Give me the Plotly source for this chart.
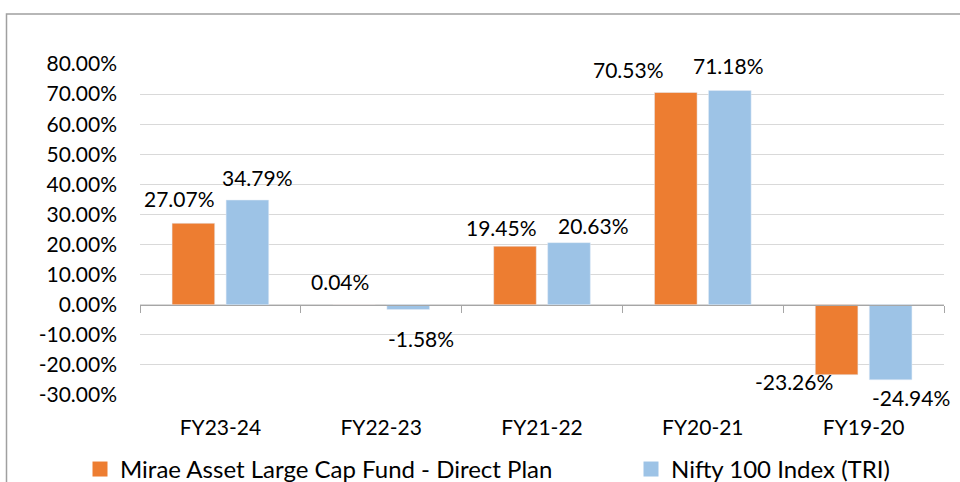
import plotly.graph_objects as go

categories = ["FY23-24", "FY22-23", "FY21-22", "FY20-21", "FY19-20"]
fund_name = "Mirae Asset Large Cap Fund - Direct Plan"
index_name = "Nifty 100 Index (TRI)"
fund_values = [27.07, 0.04, 19.45, 70.53, -23.26]
index_values = [34.79, -1.58, 20.63, 71.18, -24.94]
y_ticks = [-30, -20, -10, 0, 10, 20, 30, 40, 50, 60, 70, 80]

# label placement offsets (pixels, relative to category centre / bar end)
fund_label_dx = [-41, -41, -41, -74, -70]
fund_label_dy = [25, 23, 19, 23, -7]
index_label_dx = [37, 40, 51, 26, 47]
index_label_dy = [23, -29, 17, 25, -18]

ORANGE = "#ED7D31"
BLUE = "#9DC3E6"
FONT = "Lato"
W, H = 960, 482
L, R, T, B = 140, 16, 63.5, 87
ymin, ymax = y_ticks[0], y_ticks[-1]

fig = go.Figure()
fig.add_trace(go.Bar(x=categories, y=fund_values, name=fund_name,
                     marker_color=ORANGE, showlegend=False))
fig.add_trace(go.Bar(x=categories, y=index_values, name=index_name,
                     marker_color=BLUE, showlegend=False))
# legend entries with square markers
fig.add_trace(go.Scatter(x=[None], y=[None], mode="markers", name=fund_name,
                         marker=dict(symbol="square", size=15, color=ORANGE),
                         legend="legend"))
fig.add_trace(go.Scatter(x=[None], y=[None], mode="markers", name=index_name,
                         marker=dict(symbol="square", size=15, color=BLUE),
                         legend="legend2"))

annotations = []
for i, c in enumerate(categories):
    annotations.append(dict(x=c, y=fund_values[i], xref="x", yref="y",
                            text=f"{fund_values[i]:.2f}%", showarrow=False,
                            xshift=fund_label_dx[i], yshift=fund_label_dy[i],
                            font=dict(family=FONT, size=21, color="#000")))
    annotations.append(dict(x=c, y=index_values[i], xref="x", yref="y",
                            text=f"{index_values[i]:.2f}%", showarrow=False,
                            xshift=index_label_dx[i], yshift=index_label_dy[i],
                            font=dict(family=FONT, size=21, color="#000")))

pw = W - L - R
ph = H - T - B
def px_x(p):
    return (p - L) / pw
def px_y(p):
    return (H - B - p) / ph

legend_common = dict(orientation="h", xanchor="left", yanchor="top",
                     font=dict(family=FONT, size=24, color="#000"),
                     bgcolor="rgba(0,0,0,0)")

fig.update_layout(
    width=W, height=H,
    margin=dict(l=L, r=R, t=T, b=B, autoexpand=False),
    paper_bgcolor="white", plot_bgcolor="white",
    barmode="group", bargap=0.328, bargroupgap=0.211,
    font=dict(family=FONT, size=21, color="#000"),
    annotations=annotations,
    showlegend=True,
    legend=dict(x=px_x(80), y=px_y(447), **legend_common),
    legend2=dict(x=px_x(631), y=px_y(447), **legend_common),
    xaxis=dict(type="category", range=[-0.5, len(categories) - 0.5],
               showline=False, ticks="", showgrid=False,
               tickfont=dict(family=FONT, size=21, color="#000"),
               ticklabelstandoff=18),
    xaxis2=dict(overlaying="x", anchor="free",
                position=(0 - ymin) / (ymax - ymin),
                range=[-0.5, len(categories) - 0.5],
                tickmode="array",
                tickvals=[i - 0.5 for i in range(len(categories) + 1)],
                showticklabels=False, showgrid=False, zeroline=False,
                showline=True, linecolor="#a6a6a6", linewidth=1.3,
                ticks="outside", ticklen=7, tickcolor="#a6a6a6", tickwidth=1.3),
    yaxis=dict(range=[ymin, ymax], tickmode="array", tickvals=y_ticks,
               ticktext=[f"{v:.2f}%" for v in y_ticks],
               showgrid=True, gridcolor="#d9d9d9", gridwidth=1.3,
               zeroline=False, showline=False, ticks="",
               tickfont=dict(family=FONT, size=21, color="#000"),
               ticklabelstandoff=22),
    shapes=[dict(type="rect", xref="paper", yref="paper",
                 x0=px_x(6.5), x1=px_x(970), y0=px_y(500), y1=px_y(13.3),
                 line=dict(color="#a0a0a0", width=1.5), fillcolor="rgba(0,0,0,0)",
                 layer="below")],
)
# invisible trace to activate xaxis2
fig.add_trace(go.Scatter(x=[None], y=[None], xaxis="x2", showlegend=False,
                         hoverinfo="skip"))

fig.write_html("out.html", config={"displayModeBar": False},
               post_script="document.body.style.margin='0';document.body.style.overflow='hidden';")
